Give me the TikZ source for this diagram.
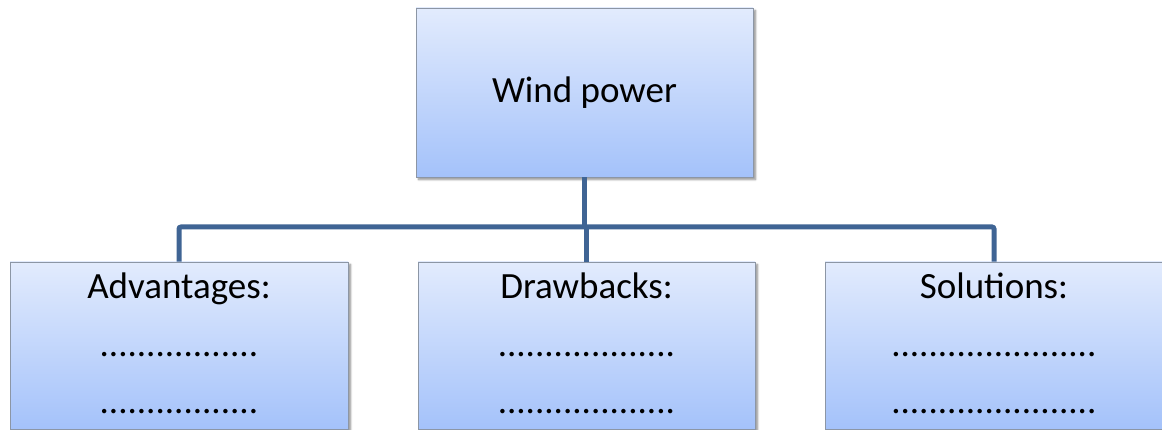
\documentclass[tikz,border=0pt]{standalone}
\usepackage{fontspec}
\setmainfont{Carlito}
\usetikzlibrary{shadows.blur}
\definecolor{boxtop}{RGB}{226,235,253}
\definecolor{boxbot}{RGB}{164,194,250}
\definecolor{boxedge}{RGB}{140,150,165}
\definecolor{linkblue}{RGB}{63,100,148}
\tikzset{
  panel/.style={rectangle, draw=boxedge, line width=0.9pt, top color=boxtop, bottom color=boxbot,
    blur shadow={shadow xshift=2.5pt, shadow yshift=-2.5pt, shadow blur steps=6, shadow opacity=45, shadow blur radius=2pt},
    inner sep=0pt},
  conn/.style={draw=linkblue, line width=5pt, rounded corners=2pt},
  labtxt/.style={anchor=base, font=\fontsize{37}{44}\selectfont},
}
\begin{document}
\begin{tikzpicture}[x=1pt,y=-1pt]
\useasboundingbox (0,0) rectangle (1162,430);
\clip (0,0) rectangle (1162,430);
% boxes
\node[panel, minimum width=337pt, minimum height=169pt] (top) at (584.5,92.5) {};
\node[panel, minimum width=338pt, minimum height=167pt] (adv) at (179,345.5) {};
\node[panel, minimum width=337pt, minimum height=167pt] (drw) at (586.5,345.5) {};
\node[panel, minimum width=338pt, minimum height=167pt] (sol) at (994,345.5) {};
% connectors
\coordinate (bus) at (586.5,227);
\draw[conn] (top.south) -- (top.south |- bus);
\draw[conn] (adv.north) |- (bus) -| (sol.north);
\draw[conn] (drw.north) -- (drw.north |- bus);
% texts
\node[labtxt] (tw) at (584.5,103) {Wind power};
\node[labtxt] (ta) at (179,299) {Advantages:};
\node[labtxt] (ta1) at (179,356) {.................};
\node[labtxt] (ta2) at (179,413) {.................};
\node[labtxt] (td) at (586.5,299) {Drawbacks:};
\node[labtxt] (td1) at (586.5,356) {...................};
\node[labtxt] (td2) at (586.5,413) {...................};
\node[labtxt] (ts) at (994,299) {Solutions:};
\node[labtxt] (ts1) at (994,356) {......................};
\node[labtxt] (ts2) at (994,413) {......................};
\end{tikzpicture}
\end{document}
